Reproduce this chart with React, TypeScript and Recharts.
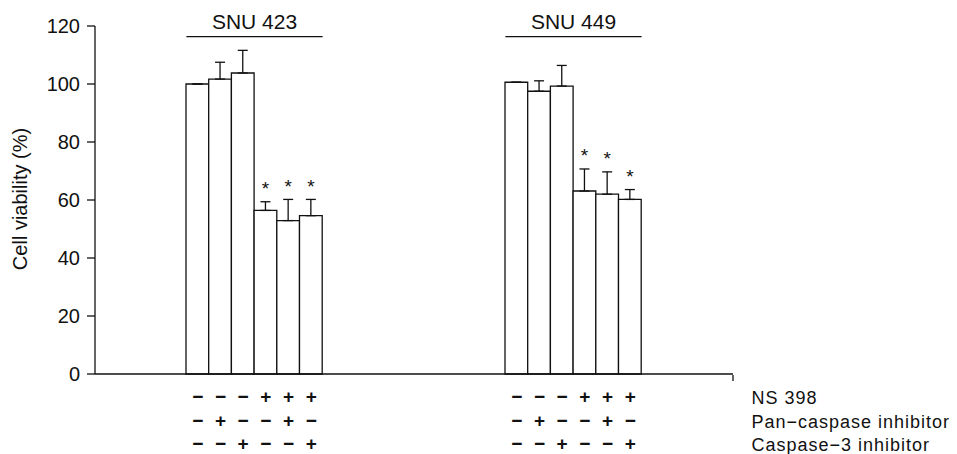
import React from 'react';
import { ComposedChart, Bar, XAxis, YAxis, ErrorBar, LabelList } from 'recharts';

const cellLines = ['SNU 423', 'SNU 449'];
const viabilitySNU423 = [100, 101.7, 103.8, 56.4, 52.9, 54.6];
const viabilitySNU449 = [100.6, 97.5, 99.3, 63.1, 62.0, 60.2];
const sdSNU423 = [0, 5.8, 7.8, 3.0, 7.3, 5.6];
const sdSNU449 = [0, 3.6, 7.1, 7.6, 7.7, 3.4];
const significant = [false, false, false, true, true, true];
const ns398 = ['−', '−', '−', '+', '+', '+'];
const panCaspase = ['−', '+', '−', '−', '+', '−'];
const caspase3 = ['−', '−', '+', '−', '−', '+'];
const treatmentLabels = ['NS 398', 'Pan−caspase inhibitor', 'Caspase−3 inhibitor'];
const yTicks = [0, 20, 40, 60, 80, 100, 120];

const means = [viabilitySNU423, viabilitySNU449];
const sds = [sdSNU423, sdSNU449];
const signRows = [ns398, panCaspase, caspase3];
const conditions = [0, 1, 2, 3, 4, 5];

const data = cellLines.map((name, g) => {
  const row: any = { name };
  conditions.forEach((i) => {
    row[`m${i}`] = means[g][i];
    row[`e${i}`] = [0, sds[g][i]];
    row[`s${i}`] = significant[i] ? sds[g][i] : null;
  });
  return row;
});

const FONT = '"Liberation Sans", Arial, Helvetica, sans-serif';
const INK = '#111';
const BAR_SIZE = 22.7;

// "*" above the error bar of significant bars
const starContent = (series: number) => (props: any) => {
  const vb = props.viewBox || props;
  const { x, y, width, height } = vb;
  const { value, index } = props;
  if (value == null || index == null) return null;
  const pxPerUnit = height / means[index][series];
  const top = y - value * pxPerUnit;
  return (
    <text x={x + width / 2} y={top - 6.5} textAnchor="middle" fontSize={19} fontFamily={FONT} fill={INK}>
      *
    </text>
  );
};

const GroupTick = (props: any) => {
  const { x, y, payload } = props;
  const half = 3 * BAR_SIZE;
  return (
    <g>
      <text x={x} y={y + 3} textAnchor="middle" fontSize={21} fontFamily={FONT} fill={INK}>
        {payload.value}
      </text>
      <line x1={x - half} x2={x + half} y1={y + 10.7} y2={y + 10.7} stroke={INK} strokeWidth={1.2} />
    </g>
  );
};

const SignTick = (props: any) => {
  const { x, y, index } = props;
  return (
    <g fontFamily={FONT} fill={INK}>
      {signRows.map((row, r) =>
        row.map((s, i) => (
          <text key={`${r}-${i}`} x={x + (i - 2.5) * BAR_SIZE} y={y + 29 + r * 23.7} textAnchor="middle" fontSize={19} fontWeight="bold">
            {s}
          </text>
        ))
      )}
      {index === cellLines.length - 1 &&
        treatmentLabels.map((t, r) => (
          <text key={t} x={x + 178} y={y + 30 + r * 23.7} fontSize={18} letterSpacing={1}>
            {t}
          </text>
        ))}
    </g>
  );
};

const EmptyTick = () => <g />;

const YLabel = (props: any) => {
  const vb = props.viewBox || {};
  const cx = vb.x + 27;
  const cy = vb.y + vb.height / 2 - 1;
  return (
    <text x={cx} y={cy} transform={`rotate(-90, ${cx}, ${cy})`} textAnchor="middle" fontSize={20} fontFamily={FONT} fill={INK}>
      Cell viability (%)
    </text>
  );
};

export default function App() {
  return (
    <div style={{ position: 'absolute', left: 0, top: 0, width: 957, height: 454, background: '#fff' }}>
      <ComposedChart width={957} height={454} data={data} margin={{ top: 25, right: 224, bottom: 78, left: 0 }} barGap={0} barSize={BAR_SIZE}>
        <XAxis dataKey="name" height={1} axisLine={{ stroke: INK, strokeWidth: 1.3 }} tickLine={false} tickSize={0} tickMargin={0} tick={<SignTick />} interval={0} />
        <XAxis xAxisId="edge" type="number" domain={[0, 2]} ticks={[1, 2]} allowDataOverflow height={1} axisLine={false} tick={<EmptyTick />} tickSize={6} tickLine={{ stroke: INK, strokeWidth: 1.3 }} interval={0} />
        <XAxis xAxisId="top" orientation="top" dataKey="name" height={1} axisLine={false} tickLine={false} tickSize={0} tickMargin={0} tick={<GroupTick />} interval={0} />
        <YAxis
          width={95}
          domain={[0, 120]}
          ticks={yTicks}
          interval={0}
          axisLine={{ stroke: INK, strokeWidth: 1.3 }}
          tickLine={{ stroke: INK, strokeWidth: 1.3 }}
          tickSize={8}
          tickMargin={7}
          tick={{ fill: INK, fontSize: 20, fontFamily: FONT }}
          label={{ content: <YLabel /> }}
        />
        {conditions.map((i) => (
          <Bar key={i} dataKey={`m${i}`} fill="#fff" stroke={INK} strokeWidth={1.3} isAnimationActive={false}>
            <ErrorBar dataKey={`e${i}`} width={5} stroke={INK} strokeWidth={1.3} direction="y" />
            <LabelList dataKey={`s${i}`} content={starContent(i)} />
          </Bar>
        ))}
      </ComposedChart>
    </div>
  );
}
